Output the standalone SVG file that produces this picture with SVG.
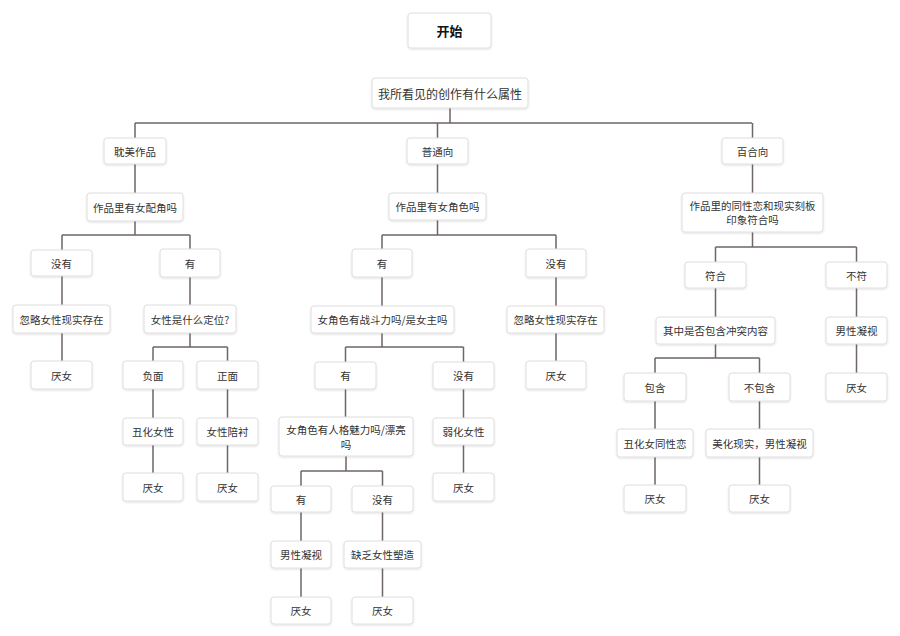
<svg xmlns="http://www.w3.org/2000/svg" width="900" height="636" viewBox="0 0 900 636">
<defs>
<filter id="sh" x="-20%" y="-30%" width="140%" height="160%">
<feDropShadow dx="0" dy="1" stdDeviation="1.2" flood-color="#000" flood-opacity="0.12"/>
</filter>
<style>
.b{fill:#fff;stroke:#dedede;stroke-width:1;filter:url(#sh)}
.t{font-family:"Noto Sans CJK SC","Noto Sans",sans-serif;font-size:10.5px;fill:#333;text-anchor:middle;dominant-baseline:central}
.c{fill:none;stroke:#6f6669;stroke-width:1.5}
</style>
</defs>
<rect width="900" height="636" fill="#fff"/>
<g id="connectors" class="c">
<path d="M450 108V123M135 123H752M135 123V138M437.5 123V138M752.5 123V138"/>
<path d="M135 164V193M437.5 164V193M752.5 164V193"/>
<path d="M135 221V235M62 235H190M62 235V250M190 235V249M62 276V305M190 277V305M62 333V361M190 333V347M153 347H227.5M153 347V361M227.5 347V361M153 389V418M227.5 389V418M153 445V473M227.5 445V473"/>
<path d="M437.5 220V235M382 235H556M382 235V249M556 235V249M382 277V306M556 277V306M556 333V361M382 333V347M345.5 347H463.5M345.5 347V362M463.5 347V362M345.5 389V417M463.5 389V418M463.5 445V473M346 456V471M301 471H382.5M301 471V486M382.5 471V486M301 512V541M382.5 512V541M301 568V597M382.5 568V597"/>
<path d="M752.5 232V247M715.5 247H856.5M715.5 247V262M856.5 247V262M715.5 288V317M856.5 288V317M856.5 344V373M715.5 344V358M655 358H759.5M655 358V373M759.5 358V373M655 401V429M759.5 401V429M655 457V485M759.5 457V485"/>
</g>
<g id="n_start"><rect class="b" x="408" y="13" width="83" height="35" rx="3"/><text class="t" x="449.5" y="30.5" style="font-size:13px;font-weight:bold;fill:#111">开始</text></g>
<g id="n_q0"><rect class="b" x="372" y="78" width="156" height="30" rx="3"/><text class="t" x="450" y="93" style="font-size:12px">我所看见的创作有什么属性</text></g>
<g id="n_bl"><rect class="b" x="104" y="138" width="62" height="26" rx="3"/><text class="t" x="135" y="151">耽美作品</text></g>
<g id="n_pt"><rect class="b" x="407" y="138" width="61" height="26" rx="3"/><text class="t" x="437.5" y="151">普通向</text></g>
<g id="n_bh"><rect class="b" x="722" y="138" width="61" height="26" rx="3"/><text class="t" x="752.5" y="151">百合向</text></g>
<g id="n_bl_q"><rect class="b" x="87" y="193" width="96" height="28" rx="3"/><text class="t" x="135" y="207">作品里有女配角吗</text></g>
<g id="n_pt_q"><rect class="b" x="389" y="193" width="97" height="27" rx="3"/><text class="t" x="437.5" y="206.5">作品里有女角色吗</text></g>
<g id="n_bh_q"><rect class="b" x="682" y="193" width="141" height="39" rx="3"/><text class="t" x="752.5" y="205.5">作品里的同性恋和现实刻板</text><text class="t" x="752.5" y="219.5">印象符合吗</text></g>
<g id="n_bl_no"><rect class="b" x="31" y="250" width="61" height="26" rx="3"/><text class="t" x="61.5" y="263">没有</text></g>
<g id="n_bl_yes"><rect class="b" x="160" y="249" width="60" height="28" rx="3"/><text class="t" x="190" y="263">有</text></g>
<g id="n_bl_ignore"><rect class="b" x="13" y="305" width="97" height="28" rx="3"/><text class="t" x="61.5" y="319">忽略女性现实存在</text></g>
<g id="n_bl_pos"><rect class="b" x="144" y="305" width="92" height="28" rx="3"/><text class="t" x="190" y="319">女性是什么定位?</text></g>
<g id="n_bl_hate"><rect class="b" x="31" y="361" width="61" height="28" rx="3"/><text class="t" x="61.5" y="375">厌女</text></g>
<g id="n_neg"><rect class="b" x="123" y="361" width="60" height="28" rx="3"/><text class="t" x="153" y="375">负面</text></g>
<g id="n_posi"><rect class="b" x="197" y="361" width="61" height="28" rx="3"/><text class="t" x="227.5" y="375">正面</text></g>
<g id="n_ugly"><rect class="b" x="123" y="418" width="60" height="27" rx="3"/><text class="t" x="153" y="431.5">丑化女性</text></g>
<g id="n_foil"><rect class="b" x="197" y="418" width="61" height="27" rx="3"/><text class="t" x="227.5" y="431.5">女性陪衬</text></g>
<g id="n_ugly_hate"><rect class="b" x="123" y="473" width="60" height="28" rx="3"/><text class="t" x="153" y="487">厌女</text></g>
<g id="n_foil_hate"><rect class="b" x="197" y="473" width="61" height="28" rx="3"/><text class="t" x="227.5" y="487">厌女</text></g>
<g id="n_pt_yes"><rect class="b" x="352" y="249" width="60" height="28" rx="3"/><text class="t" x="382" y="263">有</text></g>
<g id="n_pt_no"><rect class="b" x="526" y="249" width="60" height="28" rx="3"/><text class="t" x="556" y="263">没有</text></g>
<g id="n_fight"><rect class="b" x="311" y="306" width="143" height="27" rx="3"/><text class="t" x="382.5" y="319.5">女角色有战斗力吗/是女主吗</text></g>
<g id="n_pt_ignore"><rect class="b" x="507" y="306" width="97" height="27" rx="3"/><text class="t" x="555.5" y="319.5">忽略女性现实存在</text></g>
<g id="n_pt_hate"><rect class="b" x="526" y="361" width="60" height="28" rx="3"/><text class="t" x="556" y="375">厌女</text></g>
<g id="n_f_yes"><rect class="b" x="315" y="362" width="61" height="27" rx="3"/><text class="t" x="345.5" y="375.5">有</text></g>
<g id="n_f_no"><rect class="b" x="433" y="362" width="61" height="27" rx="3"/><text class="t" x="463.5" y="375.5">没有</text></g>
<g id="n_charm"><rect class="b" x="279" y="417" width="134" height="39" rx="3"/><text class="t" x="346" y="429.5">女角色有人格魅力吗/漂亮</text><text class="t" x="346" y="444">吗</text></g>
<g id="n_weak"><rect class="b" x="433" y="418" width="61" height="27" rx="3"/><text class="t" x="463.5" y="431.5">弱化女性</text></g>
<g id="n_weak_hate"><rect class="b" x="433" y="473" width="61" height="28" rx="3"/><text class="t" x="463.5" y="487">厌女</text></g>
<g id="n_c_yes"><rect class="b" x="271" y="486" width="60" height="26" rx="3"/><text class="t" x="301" y="499">有</text></g>
<g id="n_c_no"><rect class="b" x="352" y="486" width="61" height="26" rx="3"/><text class="t" x="382.5" y="499">没有</text></g>
<g id="n_gaze"><rect class="b" x="271" y="541" width="60" height="27" rx="3"/><text class="t" x="301" y="554.5">男性凝视</text></g>
<g id="n_lack"><rect class="b" x="344" y="541" width="77" height="27" rx="3"/><text class="t" x="382.5" y="554.5">缺乏女性塑造</text></g>
<g id="n_gaze_hate"><rect class="b" x="271" y="597" width="60" height="27" rx="3"/><text class="t" x="301" y="610.5">厌女</text></g>
<g id="n_lack_hate"><rect class="b" x="352" y="597" width="61" height="27" rx="3"/><text class="t" x="382.5" y="610.5">厌女</text></g>
<g id="n_fit"><rect class="b" x="685" y="262" width="61" height="26" rx="3"/><text class="t" x="715.5" y="275">符合</text></g>
<g id="n_unfit"><rect class="b" x="826" y="262" width="61" height="26" rx="3"/><text class="t" x="856.5" y="275">不符</text></g>
<g id="n_conflict"><rect class="b" x="656" y="317" width="119" height="27" rx="3"/><text class="t" x="715.5" y="330.5">其中是否包含冲突内容</text></g>
<g id="n_gaze2"><rect class="b" x="826" y="317" width="61" height="27" rx="3"/><text class="t" x="856.5" y="330.5">男性凝视</text></g>
<g id="n_gaze2_hate"><rect class="b" x="826" y="373" width="61" height="28" rx="3"/><text class="t" x="856.5" y="387">厌女</text></g>
<g id="n_inc"><rect class="b" x="624" y="373" width="62" height="28" rx="3"/><text class="t" x="655" y="387">包含</text></g>
<g id="n_noinc"><rect class="b" x="729" y="373" width="61" height="28" rx="3"/><text class="t" x="759.5" y="387">不包含</text></g>
<g id="n_ugly_les"><rect class="b" x="617" y="429" width="76" height="28" rx="3"/><text class="t" x="655" y="443">丑化女同性恋</text></g>
<g id="n_beaut"><rect class="b" x="706" y="429" width="107" height="28" rx="3"/><text class="t" x="759.5" y="443">美化现实，男性凝视</text></g>
<g id="n_inc_hate"><rect class="b" x="624" y="485" width="62" height="27" rx="3"/><text class="t" x="655" y="498.5">厌女</text></g>
<g id="n_noinc_hate"><rect class="b" x="729" y="485" width="61" height="27" rx="3"/><text class="t" x="759.5" y="498.5">厌女</text></g>
</svg>
